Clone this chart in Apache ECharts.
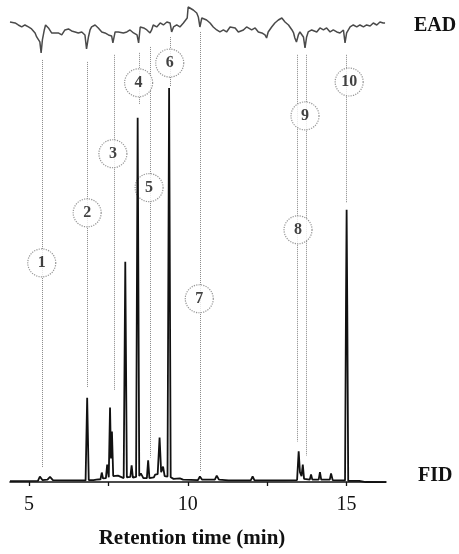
<!DOCTYPE html>
<html>
<head>
<meta charset="utf-8">
<script src="https://cdn.jsdelivr.net/npm/echarts@6/dist/echarts.min.js"></script>
<style>
  html, body { margin: 0; padding: 0; background: #fff; }
  #chart { width: 459px; height: 554px; }
</style>
</head>
<body>
<div id="chart"></div>
<script>
// FID trace: retention time (min) and signal (% of largest peak)
var fidTime = [4.40, 5.28, 5.34, 5.42, 5.58, 5.66, 5.75, 6.78, 6.83, 6.88,
  7.03, 7.08, 7.12, 7.25, 7.29, 7.33, 7.42, 7.46, 7.51, 7.55,
  7.58, 7.61, 7.65, 7.80, 7.98, 8.03, 8.08, 8.19, 8.23, 8.27,
  8.37, 8.42, 8.47, 8.52, 8.60, 8.71, 8.75, 8.79, 8.93, 8.97,
  9.05, 9.11, 9.16, 9.22, 9.27, 9.36, 9.41, 9.46, 9.55, 9.75,
  9.85, 10.32, 10.38, 10.45, 10.85, 10.91, 10.98, 11.28, 11.33, 11.38,
  11.98, 12.04, 12.10, 12.95, 12.99, 13.03, 13.44, 13.49, 13.53, 13.58,
  13.62, 13.66, 13.84, 13.88, 13.92, 14.12, 14.16, 14.20, 14.47, 14.51,
  14.56, 14.95, 14.98, 15.00, 15.02, 15.05, 15.40, 15.60, 16.24];
var fidSignal = [0.2, 0.3, 1.4, 0.5, 0.6, 1.3, 0.5, 0.4, 21.4, 0.5,
  0.5, 0.9, 0.6, 0.7, 2.4, 0.9, 1.0, 4.4, 1.2, 18.9,
  6.0, 12.8, 1.5, 1.6, 1.0, 55.9, 1.2, 1.3, 4.2, 1.1,
  1.3, 92.4, 1.5, 2.2, 1.0, 1.0, 5.5, 1.0, 1.2, 1.9,
  2.0, 11.3, 2.5, 3.9, 1.5, 1.4, 100, 1.2, 0.8, 0.9,
  0.6, 0.5, 1.4, 0.6, 0.6, 1.6, 0.6, 0.4, 0.7, 0.4,
  0.4, 1.4, 0.4, 0.4, 0.7, 0.4, 0.5, 7.8, 2.5, 1.5,
  4.4, 0.8, 0.6, 1.9, 0.6, 0.6, 2.5, 0.6, 0.6, 2.2,
  0.5, 0.4, 45, 69.1, 45, 0.3, 0.3, 0.0, -0.05];

// EAD trace: retention time (min) and antennal response (mV)
var eadTime = [4.40, 4.56, 4.66, 4.77, 4.87, 4.98, 5.08, 5.19, 5.24, 5.29,
  5.34, 5.38, 5.42, 5.48, 5.52, 5.61, 5.71, 5.82, 5.92, 6.03,
  6.08, 6.13, 6.24, 6.34, 6.45, 6.55, 6.66, 6.76, 6.81, 6.87,
  6.92, 6.97, 7.08, 7.18, 7.29, 7.39, 7.50, 7.60, 7.64, 7.71,
  7.81, 7.86, 7.97, 8.08, 8.18, 8.29, 8.40, 8.45, 8.50, 8.61,
  8.71, 8.81, 8.86, 8.91, 9.02, 9.13, 9.23, 9.34, 9.44, 9.49,
  9.55, 9.65, 9.75, 9.86, 9.91, 9.98, 10.01, 10.07, 10.17, 10.28,
  10.33, 10.38, 10.44, 10.49, 10.59, 10.70, 10.80, 10.91, 11.01, 11.12,
  11.22, 11.33, 11.38, 11.49, 11.59, 11.64, 11.75, 11.85, 11.91, 12.01,
  12.12, 12.22, 12.33, 12.43, 12.48, 12.53, 12.64, 12.74, 12.85, 12.96,
  13.01, 13.06, 13.17, 13.28, 13.33, 13.37, 13.42, 13.48, 13.53, 13.58,
  13.64, 13.69, 13.74, 13.79, 13.90, 14.06, 14.16, 14.27, 14.37, 14.48,
  14.58, 14.69, 14.79, 14.90, 14.95, 15.00, 15.11, 15.21, 15.32, 15.42,
  15.53, 15.63, 15.74, 15.84, 15.95, 16.05, 16.10, 16.15, 16.21];
var eadMv = [0.08, 0.07, 0.05, 0.03, 0.05, 0.03, 0.01, -0.03, -0.07, -0.08,
  -0.12, -0.23, -0.10, 0.00, 0.05, 0.02, -0.03, -0.03, -0.03, -0.05,
  -0.07, 0.00, 0.01, -0.01, -0.02, -0.03, -0.02, -0.05, -0.19, -0.07,
  0.00, 0.03, 0.05, 0.02, -0.02, -0.03, -0.05, -0.06, -0.13, -0.02,
  -0.02, -0.03, -0.03, -0.02, 0.00, -0.03, -0.05, -0.13, 0.03, 0.02,
  0.00, -0.03, 0.00, 0.05, 0.03, 0.07, 0.05, 0.08, 0.07, -0.02,
  0.03, 0.05, 0.03, 0.07, 0.08, 0.12, 0.23, 0.22, 0.20, 0.17,
  0.13, 0.03, 0.12, 0.13, 0.10, 0.07, 0.03, 0.00, -0.02, 0.00,
  -0.02, 0.03, 0.05, 0.02, -0.02, -0.03, 0.00, 0.03, 0.05, 0.00,
  0.02, -0.02, -0.03, -0.05, -0.08, -0.02, 0.03, 0.07, 0.10, 0.12,
  0.13, 0.08, 0.05, 0.00, -0.03, -0.08, -0.12, -0.05, -0.02, -0.03,
  -0.07, -0.18, -0.07, -0.02, 0.00, -0.02, 0.02, 0.00, 0.02, -0.02,
  0.00, -0.02, -0.03, 0.00, -0.13, -0.03, 0.03, 0.05, 0.03, 0.05,
  0.03, 0.05, 0.04, 0.07, 0.05, 0.08, 0.10, 0.07, 0.07];

// numbered EAD-active peaks: guide line time, guide top/bottom and circle place (FID units)
var peakNums = ['1', '2', '3', '4', '5', '6', '7', '8', '9', '10'];
var guideTime = [5.40, 6.83, 7.67, 8.46, 8.81, 9.46, 10.39, 13.45, 13.72, 15.00];
var guideTop = [107.1, 106.6, 108.4, 108.9, 110.4, 112.9, 114.2, 108.4, 108.4, 108.4];
var guideBottom = [3.7, 24.0, 23.4, 95.7, 6.2, 100.5, 2.7, 10.3, 6.7, 70.8];
var circleTime = [5.40, 6.83, 7.64, 8.45, 8.78, 9.43, 10.36, 13.47, 13.69, 15.08];
var circleY = [55.6, 68.3, 83.3, 101.3, 74.7, 106.3, 46.5, 64.0, 92.9, 101.5];

var tickValues = [5, 7.5, 10, 12.5, 15];
var labelValues = [5, 10, 15];

var serif = "'Liberation Serif', 'DejaVu Serif', serif";

function zip(a, b) {
  var out = [];
  for (var i = 0; i < a.length; i++) out.push([a[i], b[i]]);
  return out;
}

var guides = [];
var circles = [];
for (var i = 0; i < peakNums.length; i++) {
  guides.push([{ coord: [guideTime[i], guideTop[i]] }, { coord: [guideTime[i], guideBottom[i]] }]);
  circles.push([circleTime[i], circleY[i], peakNums[i]]);
}

var chart = echarts.init(document.getElementById('chart'));
chart.setOption({
  animation: false,
  backgroundColor: '#fff',
  grid: { left: 10, right: 73, top: 0, bottom: 65.5 },
  xAxis: {
    type: 'value', min: 4.4, max: 16.24,
    axisLine: { lineStyle: { color: '#111', width: 1.6 } },
    axisTick: { customValues: tickValues, length: 4, lineStyle: { color: '#111', width: 1.3 } },
    axisLabel: { customValues: labelValues, color: '#111', fontFamily: serif, fontSize: 20, margin: 7 },
    splitLine: { show: false },
    name: 'Retention time (min)', nameLocation: 'middle', nameGap: 40,
    nameTextStyle: { color: '#111', fontFamily: serif, fontSize: 21, fontWeight: 'bold', padding: [0, 12, 0, 0] }
  },
  yAxis: [
    { type: 'value', min: -1.52, max: 122.31, show: false },
    { type: 'value', min: -4.585, max: 0.30, show: false }
  ],
  series: [
    {
      name: 'guides', type: 'line', data: [], z: 2,
      markLine: {
        silent: true, symbol: 'none', label: { show: false },
        lineStyle: { color: '#888', width: 1, type: 'dotted' },
        data: guides
      }
    },
    {
      name: 'EAD', type: 'line', yAxisIndex: 1, data: zip(eadTime, eadMv),
      symbol: 'none', z: 4,
      lineStyle: { color: '#4a4a4a', width: 1.5 }
    },
    {
      name: 'peaks', type: 'scatter', data: circles, symbol: 'circle', symbolSize: 28, z: 5,
      itemStyle: { color: '#fff', borderColor: '#7a7a7a', borderWidth: 1.2, borderType: 'dotted' },
      label: {
        show: true, position: 'inside', formatter: function (p) { return p.value[2]; },
        color: '#111', fontFamily: serif, fontWeight: 'bold', fontSize: 16
      }
    },
    {
      name: 'FID', type: 'line', yAxisIndex: 0, data: zip(fidTime, fidSignal),
      symbol: 'none', z: 10,
      lineStyle: { color: '#111', width: 1.8 }
    }
  ],
  graphic: [
    { type: 'text', left: 414, top: 16, style: { text: 'EAD', fill: '#111', font: 'bold 20px ' + serif } },
    { type: 'text', left: 418, top: 466, style: { text: 'FID', fill: '#111', font: 'bold 20px ' + serif } }
  ]
});
</script>
</body>
</html>
